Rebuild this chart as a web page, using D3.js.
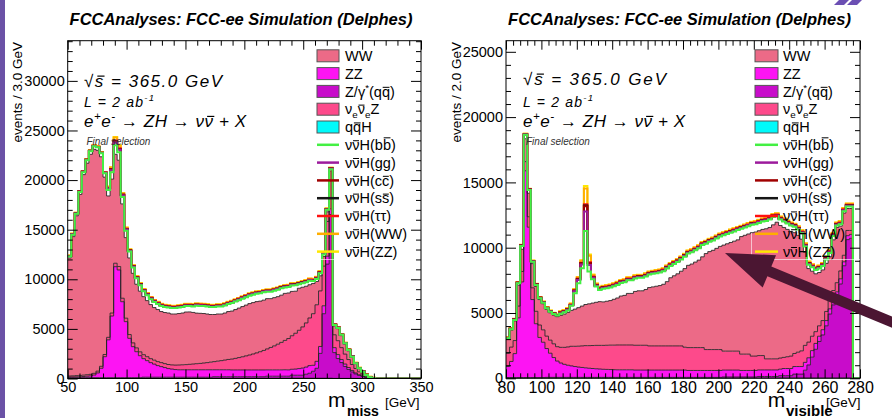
<!DOCTYPE html>
<html><head><meta charset="utf-8">
<script src="https://cdn.jsdelivr.net/npm/d3@7/dist/d3.min.js"></script>
<style>
html,body{margin:0;padding:0;background:#fff;}
svg{display:block;}
</style></head>
<body>
<svg id="chart" width="892" height="418"></svg>
<script>
// ================= DATA =================
// Left panel: missing mass, 3 GeV bins from 50 to 350 GeV
const missRange = [50, 350];
const missBinWidth = 3;
const missTicks = [50, 100, 150, 200, 250, 300, 350];
const missYTicks = [0, 5000, 10000, 15000, 20000, 25000, 30000];

const miss_qqH = [
40,40,40,40,40,40,40,40,40,40,
40,40,40,40,40,40,40,40,40,40,
40,30,30,30,30,30,30,30,30,30,
30,30,30,30,30,30,30,30,30,30,
30,30,30,30,30,30,30,30,30,30,
30,30,30,30,30,30,30,30,30,30,
30,30,30,30,30,30,30,30,30,30,
30,30,30,30,30,10,10,10,10,10,
10,10,10,10,10,10,0,0,0,0,
0,0,0,0,0,0,0,0,0,0];
const miss_Zg = [
30,30,30,30,30,30,30,30,30,30,
30,30,30,30,30,30,30,30,30,30,
30,100,100,100,100,100,100,100,100,100,
100,100,100,100,100,100,100,100,100,100,
100,150,150,150,150,150,150,150,150,150,
150,150,150,150,150,150,200,200,200,200,
200,200,200,300,300,300,300,400,500,700,
1000,2500,6500,11500,16500,2600,2000,1600,1200,900,
650,450,300,200,100,40,10,0,0,0,
0,0,0,0,0,0,0,0,0,0];
const miss_ZZ = [
80,90,100,110,130,160,190,280,490,960,
2130,3830,6230,11200,10870,7670,5660,3980,3140,2630,
2230,1870,1670,1470,1320,1170,1070,970,870,820,
770,750,750,750,750,750,750,750,750,750,
750,700,700,700,700,700,680,680,680,680,
680,680,680,680,680,680,640,640,640,640,
640,650,640,600,620,670,720,720,770,600,
700,700,800,800,600,500,400,300,250,200,
150,100,70,40,20,10,0,0,0,0,
0,0,0,0,0,0,0,0,0,0];
const miss_nuenueZ = [
100,110,120,130,140,150,160,170,180,200,
220,250,300,350,350,350,350,380,380,390,
390,400,400,400,400,400,400,400,410,420,
450,480,500,520,550,580,610,640,680,720,
770,820,870,920,980,1040,1100,1170,1250,1330,
1420,1510,1610,1720,1840,1970,2110,2260,2420,2590,
2770,2960,3160,3380,3610,3860,4150,4450,4800,5200,
5700,5600,4000,3500,2800,1300,1400,1200,1000,800,
600,450,300,200,100,40,10,0,0,0,
0,0,0,0,0,0,0,0,0,0];
const miss_WW = [
11900,14030,16110,18240,20210,21320,22180,22580,22260,21120,
17880,14250,13500,10980,10710,9510,8120,7720,7010,6410,
6110,5850,5650,5450,5300,5250,5150,5150,5190,5130,
5150,5190,5220,5300,5280,5200,5100,5050,4990,4900,
4800,4750,4750,4700,4740,4830,4840,4920,4990,5060,
5120,5180,5180,5170,5100,5070,5070,4920,4860,4790,
4760,4740,4590,4470,4240,4240,4000,3700,3350,3050,
2350,1520,970,970,970,890,1210,1210,1010,880,
710,490,320,210,90,10,10,0,0,0,
0,0,0,0,0,0,0,0,0,0];
const miss_bb = [
150,200,200,250,250,300,300,300,300,350,
400,600,700,900,800,700,700,650,600,600,
600,550,550,550,550,550,550,550,550,600,
600,600,600,600,600,600,750,750,750,750,
750,750,750,750,750,750,800,800,800,800,
800,800,800,800,800,800,700,700,700,700,
700,600,600,600,600,400,400,400,400,250,
250,250,200,200,200,100,80,80,80,80,
80,30,30,30,30,10,0,0,0,0,
0,0,0,0,0,0,0,0,0,0];
const miss_gg = [
30,30,30,30,30,30,30,30,30,30,
30,150,200,300,250,150,120,60,60,60,
60,60,60,60,60,60,60,60,60,60,
60,60,60,60,60,60,60,60,60,60,
60,60,60,60,60,60,60,60,60,60,
60,60,60,60,60,60,60,60,60,60,
60,60,60,60,60,60,60,60,60,60,
60,60,40,40,40,15,15,15,15,15,
15,15,15,15,15,15,15,0,0,0,
0,0,0,0,0,0,0,0,0,0];
const miss_cc = [
10,10,10,10,10,10,10,10,10,10,
10,40,60,100,80,50,40,25,25,25,
25,25,25,25,25,25,25,25,25,25,
25,25,25,25,25,25,25,25,25,25,
25,25,25,25,25,25,25,25,25,25,
25,25,25,25,25,25,25,25,25,25,
25,25,25,25,25,25,25,25,25,25,
25,25,15,15,15,5,5,5,5,5,
5,5,5,5,5,5,5,0,0,0,
0,0,0,0,0,0,0,0,0,0];
const miss_ss = [
5,5,5,5,5,5,5,5,5,5,
5,10,10,10,10,10,10,5,5,5,
5,5,5,5,5,5,5,5,5,5,
5,5,5,5,5,5,5,5,5,5,
5,5,5,5,5,5,5,5,5,5,
5,5,5,5,5,5,5,5,5,5,
5,5,5,5,5,5,5,5,5,5,
5,5,5,5,5,2,2,2,2,2,
2,2,2,2,2,2,2,0,0,0,
0,0,0,0,0,0,0,0,0,0];
const miss_tautau = [
15,15,15,15,15,15,15,15,15,15,
15,40,50,80,70,40,30,40,40,40,
40,40,40,40,40,40,40,40,40,40,
40,40,40,40,40,40,40,40,40,40,
40,40,40,40,40,40,40,40,40,40,
40,40,40,40,40,40,40,40,40,40,
40,40,40,40,40,40,40,40,40,40,
40,40,30,30,30,10,10,10,10,10,
10,10,10,10,10,10,10,0,0,0,
0,0,0,0,0,0,0,0,0,0];
const miss_HWW = [
40,40,40,40,40,40,40,40,40,40,
40,100,150,300,250,120,100,80,80,80,
80,80,80,80,80,80,80,80,80,80,
80,80,80,80,80,80,80,80,80,80,
80,80,80,80,80,80,80,80,80,80,
80,80,80,80,80,80,80,80,80,80,
80,80,80,80,80,80,80,80,80,80,
80,80,50,50,50,20,20,20,20,20,
20,20,20,20,20,20,20,0,0,0,
0,0,0,0,0,0,0,0,0,0];
const miss_HZZ = [
10,10,10,10,10,10,10,10,10,10,
10,20,30,60,50,30,20,15,15,15,
15,15,15,15,15,15,15,15,15,15,
15,15,15,15,15,15,15,15,15,15,
15,15,15,15,15,15,15,15,15,15,
15,15,15,15,15,15,15,15,15,15,
15,15,15,15,15,15,15,15,15,15,
15,15,10,10,10,5,5,5,5,5,
5,5,5,5,5,5,5,0,0,0,
0,0,0,0,0,0,0,0,0,0];

// Right panel: visible mass, 2 GeV bins from 80 to 280 GeV
const visRange = [80, 280];
const visBinWidth = 2;
const visTicks = [80, 100, 120, 140, 160, 180, 200, 220, 240, 260, 280];
const visYTicks = [0, 5000, 10000, 15000, 20000, 25000];

const vis_qqH = [
20,20,20,20,20,20,20,20,20,20,
20,20,20,20,20,20,20,20,20,20,
20,20,20,20,20,20,20,20,20,20,
20,20,20,20,20,20,20,20,20,20,
20,20,20,20,20,20,20,20,20,20,
20,20,20,20,20,20,20,20,20,20,
20,20,20,20,20,20,20,20,20,20,
20,20,20,20,20,20,20,20,20,20,
20,20,20,20,20,20,20,20,20,20,
20,20,20,20,20,20,20,20,0,0];
const vis_Zg = [
30,30,30,30,30,30,30,30,30,30,
30,50,50,50,50,50,50,50,50,50,
50,50,50,50,50,50,50,50,50,50,
50,50,50,50,50,50,50,50,50,50,
50,50,50,50,50,50,50,50,50,50,
50,50,50,50,50,50,50,50,50,50,
50,80,80,80,80,80,80,80,80,80,
80,120,120,120,120,120,120,180,180,180,
180,300,300,300,600,1000,1600,2200,2800,3300,
4000,4900,5600,6200,7200,8600,10600,10700,0,0];
const vis_ZZ = [
860,1240,1840,4580,7330,15840,11520,5980,4130,3080,
2710,2210,1850,1520,1250,1100,1000,930,880,830,
790,760,730,700,680,660,640,620,610,600,
590,580,580,580,580,580,560,560,560,560,
560,560,560,560,560,560,560,560,560,560,
560,530,530,530,530,530,530,530,530,530,
530,530,530,530,530,530,500,500,500,500,
500,500,500,500,500,500,500,500,550,550,
550,580,580,580,600,550,500,450,400,400,
400,400,400,400,400,300,300,300,0,0];
const vis_nuenueZ = [
1000,1100,1000,900,800,700,800,900,950,950,
950,950,1000,1050,1100,1200,1300,1400,1500,1550,
1600,1650,1700,1730,1760,1790,1810,1830,1850,1870,
1880,1900,1900,1900,1900,1900,1900,1900,1900,1900,
1850,1850,1850,1850,1850,1850,1850,1850,1850,1850,
1750,1750,1750,1750,1750,1750,1600,1600,1600,1600,
1600,1450,1450,1450,1450,1450,1250,1250,1250,1100,
1100,1100,1100,850,850,850,850,850,850,900,
950,1000,1100,1200,1300,1200,1100,900,800,700,
700,700,700,700,600,500,400,300,0,0];
const vis_WW = [
1100,1300,1500,1600,1700,1750,1800,1850,1900,1950,
2000,2050,2100,2200,2300,2450,2550,2650,2750,2850,
2950,3050,3150,3200,3250,3300,3350,3330,3370,3410,
3510,3600,3750,3800,3950,3950,4120,4170,4170,4270,
4470,4520,4570,4620,4720,4920,5220,5370,5520,5720,
6020,6300,6400,6550,6700,6950,7350,7500,7600,7750,
7900,8120,8220,8320,8420,8520,9000,9100,9200,9450,
9500,9560,9660,9960,10060,10260,10460,10150,9950,9750,
9550,9250,8950,8550,7130,5630,4980,4430,4080,3880,
3680,3280,3880,4230,3430,3230,1680,1680,0,0];
const vis_bb = [
50,60,80,150,250,300,250,150,120,100,
80,80,80,80,80,130,130,150,350,1210,
1870,2890,5630,2470,1820,1200,890,1000,1000,1000,
1000,1000,1000,1000,1000,1000,1000,1000,1000,1000,
1000,1000,1000,1000,1000,1000,900,900,900,900,
900,900,900,900,900,900,750,750,750,750,
750,750,750,750,750,750,600,600,600,600,
600,600,600,600,600,600,450,450,450,450,
450,450,450,450,450,300,300,300,300,300,
300,300,300,150,150,150,150,150,0,0];
const vis_gg = [
20,20,20,20,20,20,20,20,20,20,
20,20,20,20,20,40,40,40,40,150,
250,300,1500,500,120,60,60,60,60,60,
60,60,60,60,60,60,60,60,60,60,
60,60,60,60,60,60,60,60,60,60,
60,60,60,60,60,60,60,60,60,60,
60,60,60,60,60,60,60,60,60,60,
60,60,60,60,60,60,60,60,60,60,
60,60,60,60,60,60,60,60,60,60,
60,60,60,60,60,60,60,60,0,0];
const vis_cc = [
10,10,10,10,10,10,10,10,10,10,
10,10,10,10,10,20,20,20,20,40,
60,80,400,150,50,30,30,30,30,30,
30,30,30,30,30,30,30,30,30,30,
30,30,30,30,30,30,30,30,30,30,
30,30,30,30,30,30,30,30,30,30,
30,30,30,30,30,30,30,30,30,30,
30,30,30,30,30,30,30,30,30,30,
30,30,30,30,30,30,30,30,30,30,
30,30,30,30,30,30,30,30,0,0];
const vis_ss = [
5,5,5,5,5,5,5,5,5,5,
5,5,5,5,5,5,5,5,5,5,
5,5,50,10,5,5,5,5,5,5,
5,5,5,5,5,5,5,5,5,5,
5,5,5,5,5,5,5,5,5,5,
5,5,5,5,5,5,5,5,5,5,
5,5,5,5,5,5,5,5,5,5,
5,5,5,5,5,5,5,5,5,5,
5,5,5,5,5,5,5,5,5,5,
5,5,5,5,5,5,5,5,0,0];
const vis_tautau = [
15,15,15,15,15,15,15,15,15,15,
15,15,15,15,15,40,40,40,40,40,
40,40,100,50,40,40,40,40,40,40,
40,40,40,40,40,40,40,40,40,40,
40,40,40,40,40,40,40,40,40,40,
40,40,40,40,40,40,40,40,40,40,
40,40,40,40,40,40,40,40,40,40,
40,40,40,40,40,40,40,40,40,40,
40,40,40,40,40,40,40,40,40,40,
40,40,40,40,40,40,40,40,0,0];
const vis_HWW = [
30,30,30,30,30,30,30,30,30,30,
30,30,30,30,30,60,60,60,60,80,
100,150,1200,500,120,80,80,80,80,80,
80,80,80,80,80,80,80,80,80,80,
80,80,80,80,80,80,80,80,80,80,
80,80,80,80,80,80,80,80,80,80,
80,80,80,80,80,80,80,80,80,80,
80,80,80,80,80,80,80,80,80,80,
80,80,80,80,80,80,80,80,80,80,
80,80,80,80,80,80,80,80,0,0];
const vis_HZZ = [
10,10,10,10,10,10,10,10,10,10,
10,10,10,10,10,20,20,20,20,20,
30,40,200,100,30,20,20,20,20,20,
20,20,20,20,20,20,20,20,20,20,
20,20,20,20,20,20,20,20,20,20,
20,20,20,20,20,20,20,20,20,20,
20,20,20,20,20,20,20,20,20,20,
20,20,20,20,20,20,20,20,20,20,
20,20,20,20,20,20,20,20,20,20,
20,20,20,20,20,20,20,20,0,0];

// Legend (display order) and labels
const legendKeys = ["WW","ZZ","Zg","nuenueZ","qqH","bb","gg","cc","ss","tautau","HWW","HZZ"];
const legendLabels = ["WW","ZZ","Z/γ^{*}(q#bar{q})","ν_{e}#bar{ν}_{e}Z","q#bar{q}H",
  "ν#bar{ν}H(b#bar{b})","ν#bar{ν}H(gg)","ν#bar{ν}H(c#bar{c})","ν#bar{ν}H(s#bar{s})",
  "ν#bar{ν}H(ττ)","ν#bar{ν}H(WW)","ν#bar{ν}H(ZZ)"];
const titleText = "FCCAnalyses: FCC-ee Simulation (Delphes)";
const latexLines = ["√#bar{s} = 365.0 GeV", "L = 2 ab^{-1}", "e^{+}e^{-} → ZH → ν#bar{ν} + X"];

// ================= DRAWING =================
const FONT = "'Liberation Sans', Arial, Helvetica, sans-serif";
const svg = d3.select("#chart");
svg.append("rect").attr("width", 892).attr("height", 418).attr("fill", "#fff");

const bgOrder = ["qqH","Zg","ZZ","nuenueZ","WW"];           // bottom -> top
const sigOrder = ["bb","gg","cc","ss","tautau","HWW","HZZ"];
const allKeys = bgOrder.concat(sigOrder);
const colors = {
  WW:"#ec6a87", ZZ:"#fd14f3", Zg:"#c80cca", nuenueZ:"#fd4a8b", qqH:"#00fafa",
  bb:"#43f043", gg:"#9c1b9c", cc:"#a00000", ss:"#151515", tautau:"#ff1010",
  HWW:"#ffae00", HZZ:"#ffe800"
};

function rich(parent, str, attrs) {
  const t = parent.append("text");
  Object.entries(attrs).forEach(([k, v]) => t.attr(k, v));
  const fs = +attrs["font-size"];
  const parts = str.split(/(_\{[^}]*\}|\^\{[^}]*\}|#bar\{[^}]*\})/).filter(s => s.length);
  let idx = 0, shift = 0;
  const bars = [];
  parts.forEach(p => {
    let txt = p, dy = 0, size = null, isBar = false;
    if (p.startsWith("_{")) { txt = p.slice(2, -1); dy = 0.28 * fs; size = 0.68 * fs; }
    else if (p.startsWith("^{")) { txt = p.slice(2, -1); dy = -0.42 * fs; size = 0.68 * fs; }
    else if (p.startsWith("#bar{")) { txt = p.slice(5, -1); isBar = true; }
    const ts = t.append("tspan").text(txt);
    const d = dy - shift;
    if (d) ts.attr("dy", d);
    shift = dy;
    if (size) ts.attr("font-size", size);
    if (isBar) bars.push([idx, idx + txt.length - 1, txt]);
    idx += txt.length;
  });
  const node = t.node();
  bars.forEach(([a, b, txt]) => {
    try {
      const p0 = node.getStartPositionOfChar(a), p1 = node.getEndPositionOfChar(b);
      const tall = /[A-Zbdhklt]/.test(txt);
      const yy = p0.y - (tall ? 0.84 : 0.64) * fs;
      const sk = attrs["font-style"] === "italic" ? 0.1 * fs : 0;
      parent.append("line").attr("x1", p0.x + 0.8 + sk).attr("x2", p1.x - 0.5 + sk)
        .attr("y1", yy).attr("y2", yy)
        .attr("stroke", attrs.fill || "#000").attr("stroke-width", Math.max(1, fs * 0.07));
    } catch (e) {}
  });
  return t;
}

function drawPanel(p) {
  const x = d3.scaleLinear().domain(p.range).range([p.left, p.right]);
  const y = d3.scaleLinear().domain([0, p.yMax]).range([p.bottom, p.top]);
  const n = p.series.WW.length;
  const rows = d3.range(n).map(i => { const r = {}; allKeys.forEach(k => r[k] = p.series[k][i]); return r; });
  const stacked = d3.stack().keys(allKeys)(rows);
  const byKey = {}; stacked.forEach(s => byKey[s.key] = s);
  const pts = s => {
    const a = [];
    s.forEach((d, i) => {
      const lo = p.range[0] + i * p.binWidth;
      a.push({ x: lo, y0: d[0], y1: d[1] });
      a.push({ x: lo + p.binWidth, y0: d[0], y1: d[1] });
    });
    return a;
  };
  const area = d3.area().x(d => x(d.x)).y0(d => y(d.y0)).y1(d => y(d.y1));
  const line = d3.line().x(d => x(d.x)).y(d => y(d.y1));

  const clipId = "clip" + p.id;
  svg.append("clipPath").attr("id", clipId).append("rect")
    .attr("x", p.left).attr("y", p.top).attr("width", p.right - p.left).attr("height", p.bottom - p.top);
  const g = svg.append("g").attr("clip-path", `url(#${clipId})`);
  bgOrder.forEach(k => g.append("path").attr("d", area(pts(byKey[k]))).attr("fill", colors[k]));
  bgOrder.slice().reverse().forEach(k => g.append("path").attr("d", line(pts(byKey[k])))
    .attr("fill", "none").attr("stroke", "#222").attr("stroke-width", 1).attr("stroke-opacity", 0.85));
  sigOrder.slice().reverse().forEach(k => g.append("path").attr("d", line(pts(byKey[k])))
    .attr("fill", "none").attr("stroke", colors[k]).attr("stroke-width", 2));

  // axes (ROOT style: ticks inside, on all four sides)
  const axG = svg.append("g");
  function ax(gen, tr, vals, size, withLabels, fs) {
    gen.tickValues(vals).tickSizeInner(size).tickSizeOuter(0).tickPadding(withLabels ? p.pad : 0);
    if (!withLabels) gen.tickFormat(""); else gen.tickFormat(d3.format("d"));
    const gg = axG.append("g").attr("transform", tr).call(gen);
    gg.select(".domain").remove();
    gg.selectAll("line").attr("stroke", "#000").attr("stroke-width", 1);
    gg.selectAll("text").attr("font-size", fs).attr("fill", "#000").attr("font-family", FONT);
    return gg;
  }
  const xMin = d3.range(p.range[0], p.range[1] + 0.001, p.xMinorStep).filter(v => !p.xTicks.includes(v));
  const yMin = d3.range(0, p.yMax, 1000).filter(v => !p.yTicks.includes(v));
  ax(d3.axisBottom(x), `translate(0,${p.bottom})`, p.xTicks, -9, true, p.xFs);
  ax(d3.axisBottom(x), `translate(0,${p.bottom})`, xMin, -5, false);
  ax(d3.axisTop(x), `translate(0,${p.top})`, p.xTicks, -9, false);
  ax(d3.axisTop(x), `translate(0,${p.top})`, xMin, -5, false);
  ax(d3.axisLeft(y), `translate(${p.left},0)`, p.yTicks, -10, true, 14.5);
  ax(d3.axisLeft(y), `translate(${p.left},0)`, yMin, -5, false);
  ax(d3.axisRight(y), `translate(${p.right},0)`, p.yTicks, -10, false);
  ax(d3.axisRight(y), `translate(${p.right},0)`, yMin, -5, false);
  svg.append("rect").attr("x", p.left).attr("y", p.top).attr("width", p.right - p.left)
    .attr("height", p.bottom - p.top).attr("fill", "none").attr("stroke", "#000").attr("stroke-width", 1);

  // titles
  svg.append("text").attr("x", p.titleX).attr("y", 25).attr("text-anchor", "middle")
    .attr("font-family", FONT).attr("font-size", 16.5).attr("font-weight", "bold").attr("font-style", "italic")
    .text(titleText);
  svg.append("text").attr("transform", `translate(${p.yTitleX},42) rotate(-90)`).attr("text-anchor", "end")
    .attr("font-family", FONT).attr("font-size", 13.5).text(p.yTitle);

  // latex annotations
  const tg = svg.append("g");
  rich(tg, latexLines[0], { x: p.textX, y: p.sqrtY, "font-family": FONT, "font-size": 17, "font-style": "italic", fill: "#000", textLength: p.sqrtLen, lengthAdjust: "spacing" });
  rich(tg, latexLines[1], { x: p.textX, y: 106.5, "font-family": FONT, "font-size": 14, "font-style": "italic", fill: "#000", textLength: 70, lengthAdjust: "spacing" });
  rich(tg, latexLines[2], { x: p.textX, y: 127.3, "font-family": FONT, "font-size": 17, "font-style": "italic", fill: "#000", textLength: 162, lengthAdjust: "spacing" });
  svg.append("text").attr("x", p.finalX).attr("y", 145).attr("font-family", FONT).attr("font-size", 10)
    .attr("font-style", "italic").attr("fill", "#333").text("Final selection");

  // legend
  const lg = svg.append("g");
  legendKeys.forEach((k, i) => {
    const cy = 55.8 + i * 17.8;
    if (bgOrder.includes(k)) {
      lg.append("rect").attr("x", p.legX).attr("y", cy - 6).attr("width", p.legW).attr("height", 12)
        .attr("fill", colors[k]).attr("stroke", "#555").attr("stroke-width", 1);
    } else {
      lg.append("line").attr("x1", p.legX).attr("x2", p.legX + p.legW).attr("y1", cy).attr("y2", cy)
        .attr("stroke", colors[k]).attr("stroke-width", 2.5);
    }
    rich(lg, legendLabels[i], { x: p.legTextX, y: cy + 5.2, "font-family": FONT, "font-size": 14.5, fill: "#000" });
  });

  // x-axis title
  svg.append("text").attr("x", p.mX).attr("y", 407).attr("font-family", FONT).attr("font-size", 21).text("m");
  svg.append("text").attr("x", p.subX).attr("y", 416).attr("font-family", FONT).attr("font-size", p.subFs)
    .attr("font-weight", "bold").text(p.sub);
  svg.append("text").attr("x", p.gevX).attr("y", 407).attr("font-family", FONT).attr("font-size", 13.5).text("[GeV]");
}

drawPanel({
  id: "L", range: missRange, binWidth: missBinWidth, left: 67.7, right: 421, top: 40.7, bottom: 378.5, yMax: 34050,
  xTicks: missTicks, yTicks: missYTicks, xMinorStep: 10, pad: 3, xFs: 14.5,
  series: { qqH: miss_qqH, Zg: miss_Zg, ZZ: miss_ZZ, nuenueZ: miss_nuenueZ, WW: miss_WW,
            bb: miss_bb, gg: miss_gg, cc: miss_cc, ss: miss_ss, tautau: miss_tautau, HWW: miss_HWW, HZZ: miss_HZZ },
  titleX: 241, yTitleX: 21.7, yTitle: "events / 3.0 GeV",
  textX: 84, sqrtY: 87, sqrtLen: 138, finalX: 86.5,
  legX: 317, legW: 22, legTextX: 345,
  mX: 328, subX: 347, subFs: 14, sub: "miss", gevX: 385
});
drawPanel({
  id: "R", range: visRange, binWidth: visBinWidth, left: 506, right: 860, top: 40.7, bottom: 378.3, yMax: 25850,
  xTicks: visTicks, yTicks: visYTicks, xMinorStep: 4, pad: 3, xFs: 16,
  series: { qqH: vis_qqH, Zg: vis_Zg, ZZ: vis_ZZ, nuenueZ: vis_nuenueZ, WW: vis_WW,
            bb: vis_bb, gg: vis_gg, cc: vis_cc, ss: vis_ss, tautau: vis_tautau, HWW: vis_HWW, HZZ: vis_HZZ },
  titleX: 679.5, yTitleX: 461, yTitle: "events / 2.0 GeV",
  textX: 523, sqrtY: 85, sqrtLen: 143, finalX: 526,
  legX: 755, legW: 23, legTextX: 783,
  mX: 767.7, subX: 786, subFs: 15, sub: "visible", gevX: 826
});

// slide decorations: left purple bar, logo fragment, overlay lines and arrow
svg.append("rect").attr("x", 0).attr("y", 0).attr("width", 5).attr("height", 418).attr("fill", "#6b52a6");
svg.append("polygon").attr("points", "839,0 849,0 844,5 834,5").attr("fill", "#6b4fb3");
svg.append("polygon").attr("points", "852,0 862,0 857,5 847,5").attr("fill", "#6b4fb3");
svg.append("path").attr("d", "M751.5,233 V259.5 H860").attr("fill", "none").attr("stroke", "#fff")
  .attr("stroke-opacity", 0.6).attr("stroke-width", 1);
svg.append("path").attr("d", "M313,259.5 H334").attr("fill", "none").attr("stroke", "#fff")
  .attr("stroke-opacity", 0.6).attr("stroke-width", 1);
const ax0 = [725, 253], dir = [0.924, 0.382], perp = [-0.382, 0.924];
const hb = [ax0[0] + 48 * dir[0], ax0[1] + 48 * dir[1]];
const hw = 17.5, sw = 5.2, far = 200;
const arrowPts = [
  ax0,
  [hb[0] - perp[0] * hw, hb[1] - perp[1] * hw],
  [hb[0] - perp[0] * sw, hb[1] - perp[1] * sw],
  [ax0[0] + far * dir[0] - perp[0] * sw, ax0[1] + far * dir[1] - perp[1] * sw],
  [ax0[0] + far * dir[0] + perp[0] * sw, ax0[1] + far * dir[1] + perp[1] * sw],
  [hb[0] + perp[0] * sw, hb[1] + perp[1] * sw],
  [hb[0] + perp[0] * hw, hb[1] + perp[1] * hw]
];
svg.append("polygon").attr("points", arrowPts.map(q => q.join(",")).join(" ")).attr("fill", "#4b1632");
</script>
</body></html>
